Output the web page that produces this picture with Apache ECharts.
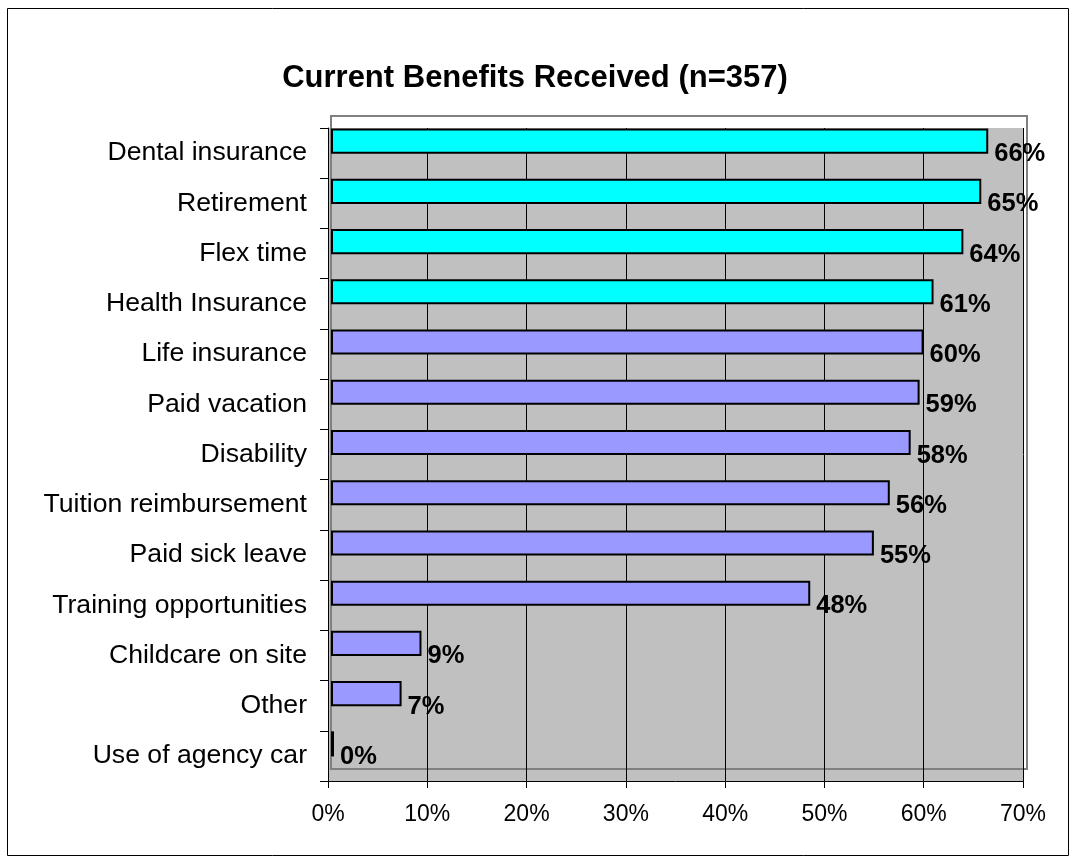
<!DOCTYPE html>
<html>
<head>
<meta charset="utf-8">
<script src="https://cdn.jsdelivr.net/npm/echarts@6/dist/echarts.min.js"></script>
<style>
html,body{margin:0;padding:0;background:#fff;}
#chart{width:1070px;height:863px;}
</style>
</head>
<body>
<div id="chart"></div>
<script>
const categories = [
  "Dental insurance", "Retirement", "Flex time", "Health Insurance",
  "Life insurance", "Paid vacation", "Disability", "Tuition reimbursement",
  "Paid sick leave", "Training opportunities", "Childcare on site", "Other",
  "Use of agency car"
];
const values = [66.1, 65.4, 63.6, 60.6, 59.6, 59.2, 58.3, 56.2, 54.6, 48.2, 9.1, 7.1, 0.3];
const highlightCount = 4;
const xTicks = { min: 0, max: 70, interval: 10 };

const FONT = "'Liberation Sans', Arial, sans-serif";
const chart = echarts.init(document.getElementById('chart'), null, { renderer: 'canvas' });

chart.setOption({
  animation: false,
  backgroundColor: '#ffffff',
  title: {
    text: 'Current Benefits Received (n=357)',
    left: 'center',
    top: 58,
    textStyle: { fontFamily: FONT, fontSize: 31, fontWeight: 'bold', color: '#000' }
  },
  graphic: [{
    type: 'rect',
    shape: { x: 7.5, y: 8.5, width: 1061, height: 847 },
    style: { fill: 'none', stroke: '#000', lineWidth: 1 },
    silent: true, z: -10
  }],
  grid: [
    { left: 328, top: 128, right: 47, bottom: 82, show: true,
      backgroundColor: '#C0C0C0', borderWidth: 0 },
    { left: 331, top: 116, right: 43, bottom: 94, show: true,
      backgroundColor: 'transparent', borderColor: '#808080', borderWidth: 2 }
  ],
  xAxis: [
    { type: 'value', gridIndex: 0, min: xTicks.min, max: xTicks.max, interval: xTicks.interval,
      axisLine: { show: true, lineStyle: { color: '#000', width: 1 } },
      axisTick: { show: true, length: 7, lineStyle: { color: '#000' } },
      splitLine: { show: true, lineStyle: { color: '#000', width: 1 } },
      axisLabel: { formatter: '{value}%', fontFamily: FONT, fontSize: 23, color: '#000', margin: 22 } },
    { type: 'value', gridIndex: 1, min: xTicks.min, max: xTicks.max, show: false }
  ],
  yAxis: [
    { type: 'category', gridIndex: 0, data: categories, inverse: true,
      axisLine: { show: true, lineStyle: { color: '#000', width: 1 } },
      axisTick: { show: true, length: 8, lineStyle: { color: '#000' } },
      splitLine: { show: false },
      axisLabel: { fontFamily: FONT, fontSize: 26.6, color: '#000', margin: 21 } },
    { type: 'category', gridIndex: 1, data: categories, inverse: true, show: false }
  ],
  series: [{
    type: 'bar',
    xAxisIndex: 1,
    yAxisIndex: 1,
    data: values,
    barWidth: '50%',
    itemStyle: {
      color: function (p) { return p.dataIndex < highlightCount ? '#00FFFF' : '#9999FF'; },
      borderColor: '#000',
      borderWidth: 2
    },
    label: {
      show: true,
      position: 'right',
      distance: 6,
      offset: [0, 13],
      fontFamily: FONT,
      fontSize: 25.5,
      fontWeight: 'bold',
      color: '#000',
      formatter: function (p) { return Math.round(p.value) + '%'; }
    }
  }]
});
</script>
</body>
</html>
